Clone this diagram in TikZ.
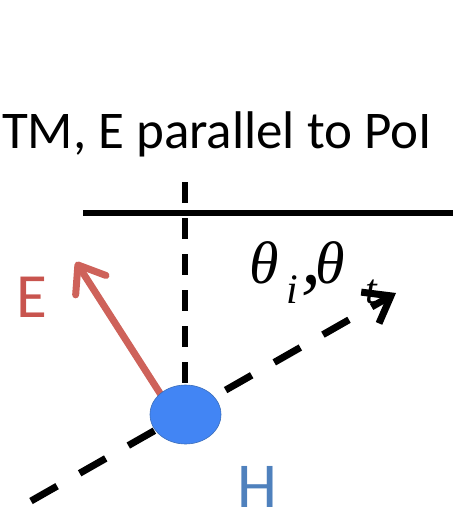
\documentclass[tikz,border=0pt]{standalone}
\usepackage{fontspec}
\setmainfont{Carlito}
\newfontfamily\thetafont{Liberation Serif}
\usetikzlibrary{arrows.meta,shapes.geometric}
\definecolor{arrowred}{RGB}{206,98,90}
\definecolor{textred}{RGB}{200,84,78}
\definecolor{textblue}{RGB}{79,129,189}
\definecolor{dotblue}{RGB}{66,133,244}
\definecolor{dotedge}{RGB}{60,110,185}
\tikzset{
  surface/.style={line width=5.5pt},
  normalline/.style={line width=6pt, dash pattern=on 21pt off 15pt},
  kvector/.style={line width=7pt, dash pattern=on 30pt off 26pt,
    -{Straight Barb[length=24pt,width=36pt]}},
  evector/.style={line width=7pt, arrowred, line cap=round,
    -{Straight Barb[length=24pt,width=36pt,round]}},
  dotstyle/.style={ellipse, fill=dotblue, draw=dotedge, line width=0.6pt,
    minimum width=71pt, minimum height=59pt, inner sep=0pt},
}
\newcommand{\subsz}[1]{\raisebox{-20pt}{\thetafont\itshape\fontsize{42pt}{42pt}\selectfont #1}}
\begin{document}
\begin{tikzpicture}[x=1pt,y=-1pt]
\useasboundingbox (0,0) rectangle (453,513);
% title
\node[anchor=base, inner sep=0pt, font=\fontsize{53}{60}\selectfont] (title) at (217,149) {TM, E parallel to PoI};
% coordinates
\coordinate (surfL) at (83,213);
\coordinate (surfR) at (453,213);
\coordinate (normTop) at (185,182);
\coordinate (normBot) at (185,385);
\coordinate (kStart) at (31,501);
\coordinate (kTip) at (396,293);
\coordinate (eTail) at (172,412);
\coordinate (eTip) at (76,262);
% lines
\draw[surface] (surfL) -- (surfR);
\draw[normalline] (normTop) -- (normBot);
\draw[kvector] (kStart) -- (kTip);
\draw[evector] (eTail) -- (eTip);
% dot
\node[dotstyle] (dot) at (185.5,414.5) {};
% labels
\node[anchor=base, inner sep=0pt, text=textred, font=\fontsize{63}{66}\selectfont] (elabel) at (32,317) {E};
\node[anchor=base, inner sep=0pt, text=textblue, font=\fontsize{64}{64}\selectfont] (hlabel) at (257,507) {H};
\node[anchor=base west, inner sep=0pt, font=\thetafont\itshape\fontsize{60}{60}\selectfont] (theta) at (249,283)
  {θ\hspace{8pt}\subsz{i}\hspace{3pt}{\fontsize{80}{80}\selectfont ,}\hspace{-6pt}θ\hspace{21pt}\subsz{t}};
\end{tikzpicture}
\end{document}
